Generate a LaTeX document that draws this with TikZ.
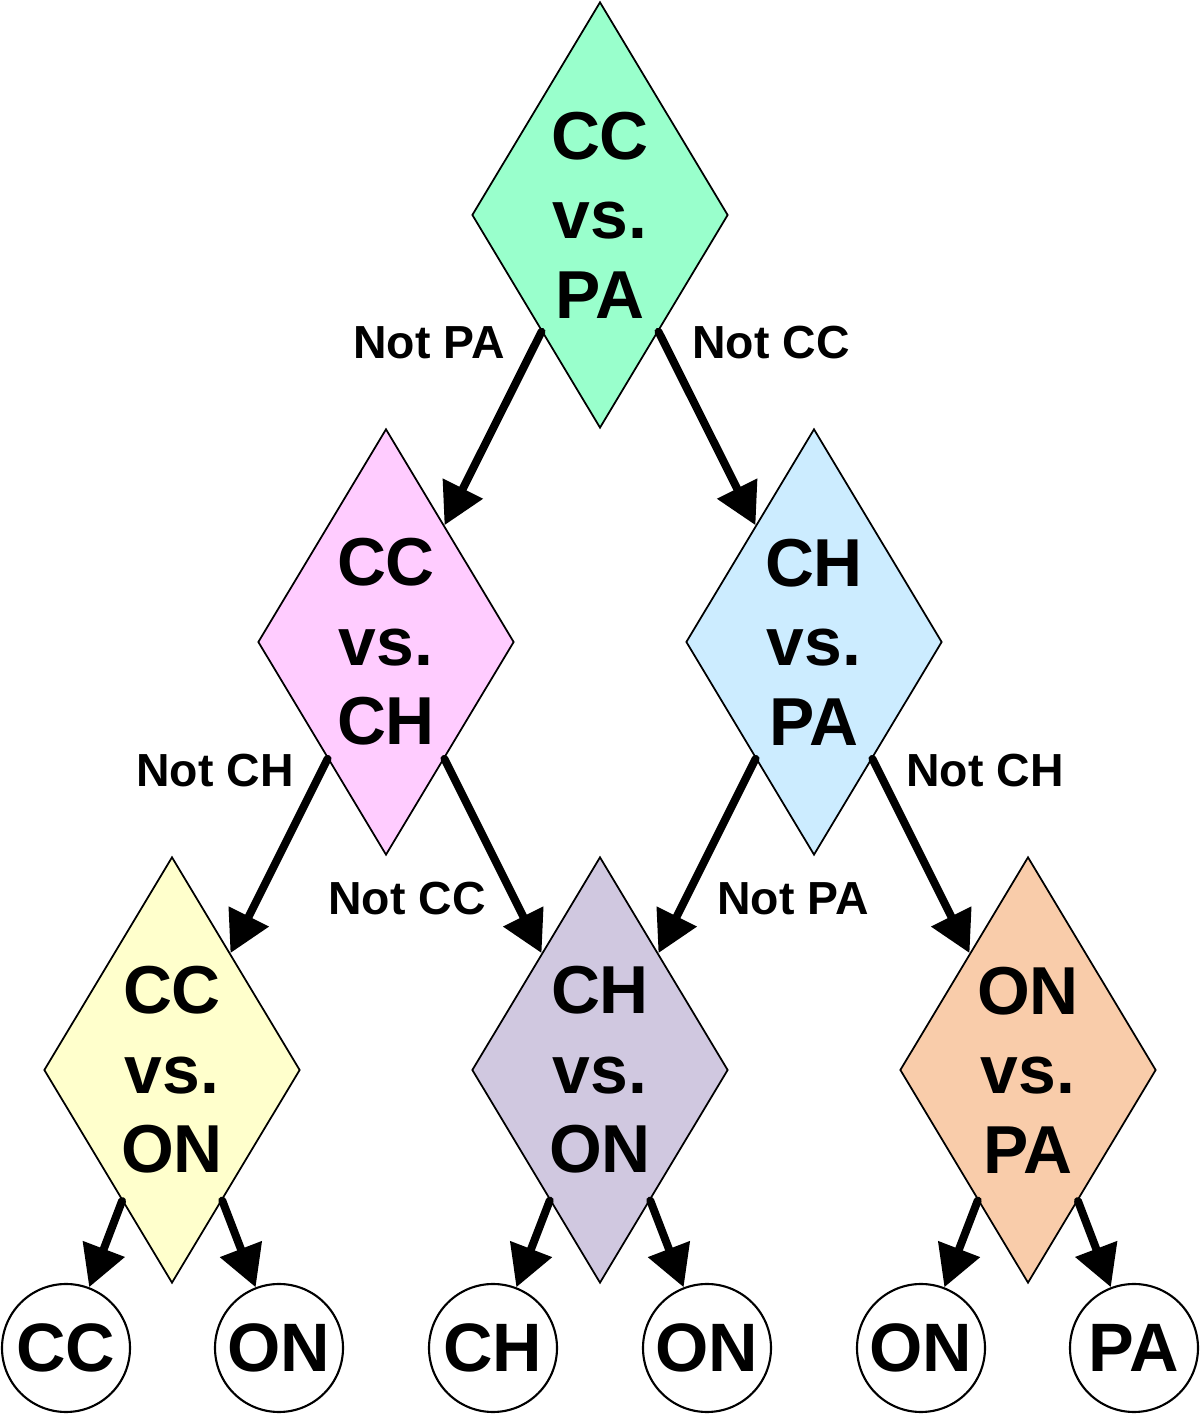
\documentclass[tikz,border=0pt]{standalone}
\usepackage{fontspec}
\setmainfont{Liberation Sans}
\usepackage{tikz}
\usetikzlibrary{positioning,shapes.geometric,arrows.meta}
\definecolor{mintgreen}{RGB}{153,255,204}
\definecolor{softpink}{RGB}{255,204,255}
\definecolor{skyblue}{RGB}{204,236,255}
\definecolor{paleyellow}{RGB}{255,255,204}
\definecolor{lavender}{RGB}{208,200,224}
\definecolor{peach}{RGB}{249,204,170}

\begin{document}
\begin{tikzpicture}[every node/.style={font=\bfseries},
    test/.style={draw,diamond,aspect=0.6,inner sep=0pt,minimum width=2.56cm,minimum height=4.26cm,
      align=center,line width=0.5pt,font=\fontsize{19.3}{22.6}\selectfont\bfseries},
    leaf/.style={draw,circle,minimum size=1.28cm,inner sep=0pt,line width=0.6pt,
      font=\fontsize{19.5}{24}\selectfont\bfseries},
    arr/.style={-{Triangle[length=4.1mm,width=4.3mm]},line width=0.08cm,line cap=round},
    lbl/.style={font=\fontsize{13.2}{15}\selectfont\bfseries}]
    \useasboundingbox (0,0) rectangle (12,14.14);
    % decision diamonds
    \node[test,fill=mintgreen] (ccpa) at (6.00,11.99) {CC\\vs.\\PA};
    \node[test,fill=softpink] (ccch) at (3.86,7.72) {CC\\vs.\\CH};
    \node[test,fill=skyblue] (chpa) at (8.14,7.72) {CH\\vs.\\PA};
    \node[test,fill=paleyellow] (ccon) at (1.72,3.44) {CC\\vs.\\ON};
    \node[test,fill=lavender] (chon) at (6.00,3.44) {CH\\vs.\\ON};
    \node[test,fill=peach] (onpa) at (10.28,3.44) {ON\\vs.\\PA};
    % leaves
    \node[leaf] (cc1) at (0.66,0.66) {CC};
    \node[leaf] (on1) at (2.79,0.66) {ON};
    \node[leaf] (ch2) at (4.93,0.66) {CH};
    \node[leaf] (on2) at (7.07,0.66) {ON};
    \node[leaf] (on3) at (9.21,0.66) {ON};
    \node[leaf] (pa3) at (11.34,0.66) {PA};
    % branch labels
    \node[lbl] (l1) at (4.29,10.71) {Not PA};
    \node[lbl] (l2) at (7.71,10.71) {Not CC};
    \node[lbl] (l3) at (2.15,6.43) {Not CH};
    \node[lbl] (l4) at (4.07,5.15) {Not CC};
    \node[lbl] (l5) at (7.93,5.15) {Not PA};
    \node[lbl] (l6) at (9.85,6.43) {Not CH};
    \draw[arr] (ccpa) -- (ccch);
    \draw[arr] (ccpa) -- (chpa);
    \draw[arr] (ccch) -- (ccon);
    \draw[arr] (ccch) -- (chon);
    \draw[arr] (chpa) -- (chon);
    \draw[arr] (chpa) -- (onpa);
    \draw[arr] (ccon) -- (cc1);
    \draw[arr] (ccon) -- (on1);
    \draw[arr] (chon) -- (ch2);
    \draw[arr] (chon) -- (on2);
    \draw[arr] (onpa) -- (on3);
    \draw[arr] (onpa) -- (pa3);
  \end{tikzpicture}
\end{document}
